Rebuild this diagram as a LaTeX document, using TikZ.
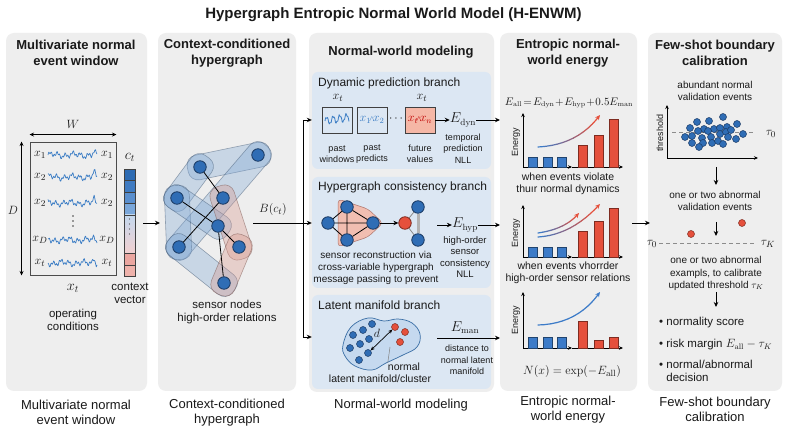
\documentclass[tikz,border=0pt]{standalone}
\usepackage[no-math]{fontspec}
\setmainfont{Liberation Sans}
\usetikzlibrary{arrows.meta,calc}
\definecolor{panelbg}{HTML}{EEEEEE}
\definecolor{boxbg}{HTML}{DCE7F3}
\definecolor{nodeblue}{HTML}{2F6DB5}
\definecolor{nodeedge}{HTML}{1B3A63}
\definecolor{barred}{HTML}{E5503C}
\definecolor{barblue}{HTML}{3C7BC8}
\definecolor{wig}{HTML}{3A7CC4}
\definecolor{salmon}{HTML}{F5B7A6}
\definecolor{txt}{HTML}{1A1A1A}
\definecolor{bandblue}{HTML}{7FA8D6}
\definecolor{bandred}{HTML}{D9958A}
\definecolor{cA}{HTML}{2D6BB3}
\definecolor{cB}{HTML}{3F7BC2}
\definecolor{cC}{HTML}{5A8FCE}
\definecolor{cD}{HTML}{7AA7DA}
\definecolor{cE}{HTML}{C4D8EE}
\definecolor{cF}{HTML}{F1D0D0}
\definecolor{cG}{HTML}{EAA6A0}
\definecolor{cH}{HTML}{EEB2AB}
\definecolor{blobfill}{HTML}{C5D9EF}
\definecolor{blobedge}{HTML}{3A6EA5}
\newcommand{\fs}[2]{\fontsize{#1}{#2}\selectfont}
\newcommand{\hband}[3]{%
  \path[fill=#3, fill opacity=.34, draw=#3!55!black, draw opacity=.5, line width=.6pt, rounded corners=10pt]
    let \p1=($(#1)!-12.5pt!(#2)$), \p2=($(#2)!-12.5pt!(#1)$) in
    ($(\p1)!12.5pt!90:(\p2)$) -- ($(\p2)!12.5pt!-90:(\p1)$) -- ($(\p2)!12.5pt!90:(\p1)$) -- ($(\p1)!12.5pt!-90:(\p2)$) -- cycle;}
\newcommand{\gcurve}[8]{%
  \foreach \i in {0,...,10}{%
    \pgfmathsetmacro\ta{\i/12}%
    \pgfmathsetmacro\tb{(\i+1)/12}%
    \pgfmathsetmacro\xa{(1-\ta)^2*(#1)+2*\ta*(1-\ta)*(#3)+\ta^2*(#5)}%
    \pgfmathsetmacro\ya{(1-\ta)^2*(#2)+2*\ta*(1-\ta)*(#4)+\ta^2*(#6)}%
    \pgfmathsetmacro\xb{(1-\tb)^2*(#1)+2*\tb*(1-\tb)*(#3)+\tb^2*(#5)}%
    \pgfmathsetmacro\yb{(1-\tb)^2*(#2)+2*\tb*(1-\tb)*(#4)+\tb^2*(#6)}%
    \pgfmathtruncatemacro\mx{100-\i*10}%
    \draw[line width=1.2pt, line cap=round, color=#7!\mx!#8] (\xa,\ya) -- (\xb,\yb);
  }%
  \pgfmathsetmacro\xa{(1/12)^2*(#1)+2*(11/12)*(1/12)*(#3)+(11/12)^2*(#5)}%
  \pgfmathsetmacro\ya{(1/12)^2*(#2)+2*(11/12)*(1/12)*(#4)+(11/12)^2*(#6)}%
  \draw[-{Stealth[length=5pt,width=4.5pt]}, line width=1.2pt, color=#8] (\xa,\ya) -- (#5,#6);
}
\tikzset{
  ptitle/.style={font=\fs{13}{16.5}\bfseries, align=center, inner sep=0},
  pcap/.style={font=\fs{13}{15}, align=center, inner sep=0},
  body/.style={font=\fs{11.5}{13}, align=center, inner sep=0},
  lab/.style={font=\fs{9}{11.5}, align=center, inner sep=0},
  desc/.style={font=\fs{10}{12.3}, align=center, inner sep=0},
  bname/.style={font=\fs{12}{14}, anchor=west, inner sep=0},
  mth/.style={font=\fs{13}{15}, inner sep=0},
  arr/.style={-{Stealth[length=5pt,width=4.5pt]}, line width=0.9pt},
  darr/.style={{Stealth[length=4.5pt,width=4pt]}-{Stealth[length=4.5pt,width=4pt]}, line width=0.8pt},
  hnode/.style={circle, fill=nodeblue, draw=nodeedge, line width=0.8pt, minimum size=12.5pt, inner sep=0},
  sdot/.style={circle, fill=nodeblue, draw=nodeedge, line width=0.5pt, minimum size=7pt, inner sep=0},
  rdot/.style={circle, fill=barred, draw=barred!55!black, line width=0.5pt, minimum size=7pt, inner sep=0},
  bbar/.style={fill=barblue, draw=barblue!55!black, line width=0.5pt},
  rbar/.style={fill=barred, draw=barred!55!black, line width=0.5pt},
  sqbox/.style={draw=black!75, line width=.9pt, minimum width=30pt, minimum height=26pt, inner sep=0},
  branchbox/.style={fill=boxbg, rounded corners=6pt, inner sep=0},
  axis/.style={-{Stealth[length=4pt,width=3.5pt]}, line width=.8pt},
}
\begin{document}
\begin{tikzpicture}[x=1pt,y=-1pt, every node/.append style={text=txt}]
\useasboundingbox (0,0) rectangle (787,435);
\fill[white] (0,0) rectangle (787,435);

% ---------- title
\node[font=\fs{15}{17}\bfseries] (title) at (393.5,15) {Hypergraph Entropic Normal World Model (H-ENWM)};

% ---------- panels
\fill[panelbg, rounded corners=8pt] (6,33) rectangle (147,391);
\fill[panelbg, rounded corners=8pt] (158,33) rectangle (296,391);
\fill[panelbg, rounded corners=8pt] (309,33) rectangle (494,392);
\fill[panelbg, rounded corners=8pt] (500,33) rectangle (637,391);
\fill[panelbg, rounded corners=8pt] (648,33) rectangle (782,391);

\node[ptitle] (t1) at (76,53) {Multivariate normal\\event window};
\node[ptitle] (t2) at (227,53) {Context-conditioned\\hypergraph};
\node[ptitle] (t3) at (401,52) {Normal-world modeling};
\node[ptitle] (t4) at (568,53) {Entropic normal-\\world energy};
\node[ptitle] (t5) at (715,53) {Few-shot boundary\\calibration};

\node[pcap] (c1) at (76,412.5) {Multivariate normal\\event window};
\node[pcap] (c2) at (227,412.5) {Context-conditioned\\hypergraph};
\node[pcap] (c3) at (401,405) {Normal-world modeling};
\node[pcap] (c4) at (568,409.5) {Entropic normal-\\world energy};
\node[pcap] (c5) at (715,409.5) {Few-shot boundary\\calibration};

% ---------- panel 1
\node[draw=black!70, line width=.9pt, minimum width=86pt, minimum height=133pt, inner sep=0] (win) at (73,208.5) {};
\node[mth] (Wl) at (73,124) {$W$};
\draw[darr] ([yshift=7pt]win.north west) -- ([yshift=7pt]win.north east);
\node[mth] (Dl) at (13,210) {$D$};
\draw[darr] ([xshift=-8pt]win.north west) -- ([xshift=-8pt]win.south west);
\foreach \yy/\ph/\sp/\la in {155/0/3/1, 177/37/5/2, 203/81/4/2, 240/123/2/D, 263/200/6/t}{
  \node[font=\fs{12.5}{14}, inner sep=0] at (40,\yy) {$x_{\la}$};
  \node[font=\fs{12.5}{14}, inner sep=0] at (107,\yy) {$x_{\la}$};
  \draw[wig, line width=.7pt, line join=round] plot[domain=48:97, samples=70]
    (\x, {\yy - 1.9*sin(47*(\x-48)+\ph) - 1.5*sin(131*(\x-48)+2*\ph) - 1.2*sin(17*(\x-48)+\ph) - \sp*max(0,1-abs(\x-94)/2.2)});
}
\foreach \yy in {216,221,226}{\fill[black!75] (73,\yy) circle (0.8pt);}
\node[font=\fs{14}{16}, inner sep=0] (xt1) at (73,288) {$x_t$};
\node[body] (opc) at (73,319.5) {operating\\conditions};
% context vector
\fill[cA] (124,169) rectangle (135,180);
\fill[cB] (124,180) rectangle (135,192);
\fill[cC] (124,192) rectangle (135,203);
\fill[cD] (124,203) rectangle (135,215);
\shade[top color=cE, bottom color=cF] (124,215) rectangle (135,253);
\fill[cG] (124,253) rectangle (135,265);
\fill[cH] (124,265) rectangle (135,276);
\foreach \yy in {180,192,203,215,253,265}{\draw[black!75, line width=.6pt] (124,\yy) -- (135,\yy);}
\foreach \yy in {219,224,229,234}{\fill[black!70] (129.5,\yy) circle (0.7pt);}
\node[draw=black!75, line width=.8pt, minimum width=11pt, minimum height=107pt, inner sep=0] (ctv) at (129.5,222.5) {};
\node[font=\fs{14}{16}, inner sep=0] (ctl) at (130,157) {$c_t$};
\node[body] (ctxv) at (130,293) {context\\vector};
\coordinate (p1out) at (143,223);
\coordinate (p2in) at (160,223);
\draw[arr] (p1out) -- (p2in);

% ---------- panel 2 : hypergraph
\coordinate (h1) at (258,155);
\coordinate (h2) at (200,167);
\coordinate (h3) at (177,198);
\coordinate (h4) at (223,198);
\coordinate (h5) at (218,226);
\coordinate (h6) at (179,247);
\coordinate (h7) at (239,247);
\coordinate (h8) at (224,283);
\hband{h2}{h1}{bandblue}
\hband{h1}{h6}{bandblue}
\hband{h2}{h3}{bandblue}
\hband{h3}{h6}{bandblue}
\hband{h6}{h8}{bandblue}
\hband{h3}{h5}{bandblue}
\hband{h4}{h7}{bandred}
\hband{h7}{h8}{bandred}
\foreach \i in {1,...,8}{\node[hnode] (n\i) at (h\i) {};}
\draw[line width=.8pt] (n2) -- (n4);
\draw[line width=.8pt] (n3) -- (n5);
\draw[line width=.8pt] (n4) -- (n6);
\draw[line width=.8pt] (n5) -- (n7);
\draw[line width=.8pt] (n5) -- (n8);
\node[body] (snl) at (227,312.5) {sensor nodes\\high-order relations};
\node[font=\fs{13}{15}, inner sep=0] (Bct) at (273,210) {$B(c_t)$};

% ---------- panel 3 : branches
\node[branchbox, minimum width=179pt, minimum height=97pt] (box1) at (401.5,120.5) {};
\node[branchbox, minimum width=179pt, minimum height=111pt] (box2) at (401.5,232.5) {};
\node[branchbox, minimum width=179pt, minimum height=94pt] (box3) at (401.5,342) {};

\coordinate (bstart) at (253,223);
\coordinate (bus) at (303,223);
\coordinate (bt) at (303,120);
\coordinate (bb) at (303,337);
\draw[line width=.9pt] (bstart) -- (bus);
\draw[line width=.9pt] (bt) -- (bb);
\draw[arr] (bt) -- (box1.west |- bt);
\draw[arr] (bus) -- (box2.west |- bus);
\draw[arr] (bb) -- (box3.west |- bb);

% box 1
\node[bname] (bn1) at (318,83) {Dynamic prediction branch};
\node[font=\fs{12.5}{14}, inner sep=0] (xa) at (338,98) {$x_t$};
\node[font=\fs{12.5}{14}, inner sep=0] (xb) at (422,98) {$x_t$};
\node[sqbox] (sq1) at (337,120) {};
\draw[wig, line width=.8pt, line join=round] plot[domain=325:349, samples=40] (\x, {121 - 3.5*sin(55*(\x-325)) - 1.2*sin(160*(\x-325)) - 0.15*(\x-325)});
\node[sqbox] (sq2) at (372,120) {\fs{11.5}{13}\textcolor{wig}{$x_1\!{\scriptstyle\wedge}\!x_2$}};
\node[font=\fs{12}{14}, inner sep=0] (ddots) at (396,119) {$\cdots$};
\node[sqbox, fill=salmon] (sq3) at (420,120) {\fs{11.5}{13}\textcolor{red!75!black}{$x_t\!{\scriptstyle\wedge}\!x_n$}};
\node[lab] (l1) at (337,154) {past\\windows};
\node[lab] (l2) at (372,154) {past\\predicts};
\node[lab] (l3) at (420,154) {future\\values};
\node[font=\fs{13.5}{15}, inner sep=0] (Edyn) at (463,120) {$E_{\mathrm{dyn}}$};
\node[lab] (Edl) at (463,148.5) {temporal\\prediction\\NLL};
\draw[arr] (sq3.east) -- (Edyn.west);
\coordinate (p4a) at (500,120);
\draw[arr] (Edyn.east) -- (p4a);

% box 2
\node[bname] (bn2) at (318,187) {Hypergraph consistency branch};
\fill[salmon, draw=bandred!80!black, line width=.5pt, fill opacity=.85, rounded corners=4pt] (338,199) -- (368,209) -- (383,223) -- (368,237) -- (338,247) -- cycle;
\node[hnode] (ga) at (328,223) {};
\node[hnode] (gb) at (347,207) {};
\node[hnode] (gc) at (347,240) {};
\node[hnode] (gd) at (373,223) {};
\draw[line width=.8pt] (ga) -- (gb) (ga) -- (gc) (ga) -- (gd) (gb) -- (gc) (gb) -- (gd) (gc) -- (gd);
\node[circle, fill=barred, draw=barred!55!black, line width=.8pt, minimum size=12.5pt, inner sep=0] (gr) at (405,223) {};
\node[hnode] (ge) at (418,207) {};
\node[hnode] (gf) at (418,240) {};
\draw[black!30, line width=3pt] (ge) -- (gf);
\draw[black!45, line width=.8pt] (gr) -- (ge) (gr) -- (gf);
\draw[arr] (gd) -- (gr);
\node[font=\fs{13.5}{15}, inner sep=0] (Ehyp) at (465,225) {$E_{\mathrm{hyp}}$};
\coordinate (hypin) at (437,225);
\draw[arr] (hypin) -- (Ehyp.west);
\coordinate (p4b) at (500,225);
\draw[arr] (Ehyp.east) -- (p4b);
\node[lab, font=\fs{9.5}{11.5}] (Ehl) at (465,257) {high-order\\sensor\\consistency\\NLL};
\node[desc] (hdesc) at (376,268) {sensor reconstruction via\\cross-variable hypergraph\\message passing to prevent};

% box 3
\node[bname] (bn3) at (318,305) {Latent manifold branch};
\filldraw[fill=blobfill, draw=blobedge, line width=.7pt] plot[smooth cycle, tension=.65] coordinates
  {(343,345) (351,327) (368,318) (384,321) (398,319) (412,323) (420,334) (417,347) (403,355) (386,363) (372,370) (355,366) (345,356)};
\node[sdot] (m1) at (353,335) {};
\node[sdot] (m2) at (363,330) {};
\node[sdot] (m3) at (372,324) {};
\node[sdot] (m4) at (350,348) {};
\node[sdot] (m5) at (360,344) {};
\node[sdot] (m6) at (369,339) {};
\node[sdot] (m7) at (359,360) {};
\node[sdot] (m8) at (368,353) {};
\node[rdot] (r1) at (395,327) {};
\node[rdot] (r2) at (405,332) {};
\node[rdot] (r3) at (400,342) {};
\draw[{Stealth[length=4pt,width=3.5pt]}-{Stealth[length=4pt,width=3.5pt]}, line width=.7pt] (m8) -- (r1);
\node[font=\fs{11.5}{13}, inner sep=0] (dl) at (377,333) {$d$};
\node[desc, font=\fs{10.5}{12.3}] (mnorm) at (404,367) {normal};
\node[desc, font=\fs{10.5}{12.3}] (mdesc) at (380,379) {latent manifold/cluster};
\coordinate (ptr) at (390,347);
\draw[black!50, line width=.5pt] (mnorm.north west) -- (ptr);
\node[font=\fs{13.5}{15}, inner sep=0] (Eman) at (465,328) {$E_{\mathrm{man}}$};
\coordinate (manin) at (437,338);
\coordinate (p4c) at (500,338);
\draw[arr] (manin) -- (p4c);
\node[lab] (Eml) at (467,360) {distance to\\normal latent\\manifold};

% ---------- panel 4 : energy
\node[font=\fs{10.7}{13}, inner sep=0] (Eall) at (569,103) {$E_{\mathrm{all}}\!=\!E_{\mathrm{dyn}}\!+\!E_{\mathrm{hyp}}\!+\!0.5E_{\mathrm{man}}$};
% chart 1
\begin{scope}[shift={(0,167)}]
  \draw[axis] (523,0) -- (523,-54);
  \draw[axis] (523,0) -- (572,0);
  \draw[axis] (572,0) -- (623,0);
  \node[font=\fs{9}{10}, rotate=90, inner sep=0] (en1) at (516,-25) {Energy};
  \draw[bbar] (528,0) rectangle (537,-10);
  \draw[bbar] (543,0) rectangle (552,-10);
  \draw[bbar] (557,0) rectangle (566,-10);
  \draw[rbar] (578,0) rectangle (587,-22);
  \draw[rbar] (594,0) rectangle (603,-32);
  \draw[rbar] (609,0) rectangle (618,-48);
  \gcurve{538}{-20}{578}{-22}{600}{-52}{barblue}{barred}
\end{scope}
\node[desc, font=\fs{10.5}{12.3}] (cap41) at (568,184) {when events violate\\thuır normal dynamics};
% chart 2
\begin{scope}[shift={(0,257)}]
  \draw[axis] (523,0) -- (523,-52);
  \draw[axis] (523,0) -- (572,0);
  \draw[axis] (572,0) -- (623,0);
  \node[font=\fs{9}{10}, rotate=90, inner sep=0] (en2) at (516,-24) {Energy};
  \draw[bbar] (528,0) rectangle (537,-10);
  \draw[bbar] (543,0) rectangle (552,-10);
  \draw[bbar] (557,0) rectangle (566,-10);
  \draw[rbar] (578,0) rectangle (587,-26);
  \draw[rbar] (594,0) rectangle (603,-36);
  \draw[rbar] (609,0) rectangle (618,-49);
  \gcurve{538}{-20}{572}{-22}{600}{-53}{barblue}{barred}
  \gcurve{538}{-24}{566}{-28}{579}{-44}{barblue}{barred}
\end{scope}
\node[desc, font=\fs{10.5}{12.3}] (cap42) at (568,273) {when events vhorrder\\high-order sensor relations};
% chart 3
\begin{scope}[shift={(0,348)}]
  \draw[axis] (523,0) -- (523,-56);
  \draw[axis] (523,0) -- (572,0);
  \draw[axis] (572,0) -- (623,0);
  \node[font=\fs{9}{10}, rotate=90, inner sep=0] (en3) at (516,-28) {Energy};
  \draw[bbar] (528,0) rectangle (537,-11);
  \draw[bbar] (543,0) rectangle (552,-11);
  \draw[bbar] (557,0) rectangle (566,-11);
  \draw[rbar] (578,0) rectangle (587,-27);
  \draw[rbar] (594,0) rectangle (603,-8);
  \draw[rbar] (609,0) rectangle (618,-11);
  \gcurve{538}{-23}{578}{-24}{600}{-56}{barblue}{barblue}
\end{scope}
\node[font=\fs{12.5}{14}, inner sep=0] (Nx) at (572,371) {$N(x)=\exp(-E_{\mathrm{all}})$};
\coordinate (p4out) at (632,223);
\coordinate (p5in) at (650,223);
\draw[arr] (p4out) -- (p5in);

% ---------- panel 5 : calibration
\node[desc] (abn) at (715,91) {abundant normal\\validation events};
\draw[axis] (667,158) -- (667,105);
\draw[axis] (667,158) -- (758,158);
\node[font=\fs{9}{10}, rotate=90, inner sep=0] (thr) at (660,133) {threshold};
\draw[black!45, dash pattern=on 4pt off 3pt, line width=.8pt] (672,132) -- (753,132);
\node[font=\fs{12.5}{14}, inner sep=0] (tau0a) at (771,134) {$\tau_0$};
\foreach \px/\py in {697/122,709/121,723/117,737/124,690/128,704/129,714/129,720/128,727/127,685/137,692/136,698/131,708/131,720/134,726/132,731/130,743/134,702/138,711/137,728/137,736/139,692/143,703/143,712/143,718/141,723/144,699/147}{
  \node[sdot] at (\px,\py) {};
}
\coordinate (a1s) at (716,167);
\coordinate (a1e) at (716,185);
\draw[arr] (a1s) -- (a1e);
\node[desc] (oab) at (715,201) {one or two abnormal\\validation events};
\coordinate (a2s) at (716,222);
\coordinate (a2e) at (716,236);
\draw[arr] (a2s) -- (a2e);
\node[rdot] (ra) at (742,223) {};
\node[rdot] (rb) at (691,234) {};
\draw[black!45, dash pattern=on 4pt off 3pt, line width=.8pt] (659,243) -- (756,243);
\node[font=\fs{12.5}{14}, inner sep=0] (tau0b) at (652,244) {$\tau_0$};
\node[font=\fs{12.5}{14}, inner sep=0] (tauK) at (768,244) {$\tau_K$};
\node[desc] (oae) at (716,273.5) {one or two abnormal\\exampls, to calibrate\\updated threshold $\tau_K$};
\coordinate (a3s) at (716,292);
\coordinate (a3e) at (716,307);
\draw[arr] (a3s) -- (a3e);
\node[font=\fs{11.5}{12.5}, anchor=west, inner sep=0] (b1) at (659,323) {\textbullet\ normality score};
\node[font=\fs{11.5}{12.5}, anchor=west, inner sep=0] (b2) at (659,345) {\textbullet\ risk margin $E_{\mathrm{all}}-\tau_K$};
\node[font=\fs{11.5}{12.5}, anchor=west, inner sep=0, align=left] (b3) at (659,371) {\textbullet\ normal/abnormal\\\phantom{\textbullet\ }decision};
\end{tikzpicture}
\end{document}
